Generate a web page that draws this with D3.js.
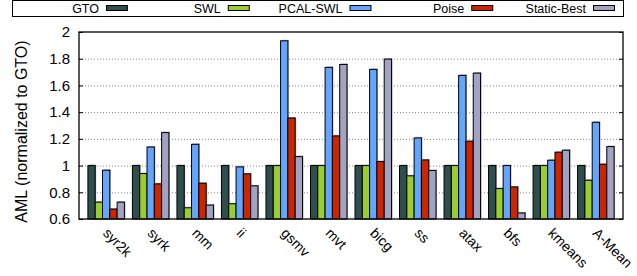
<!DOCTYPE html>
<html>
<head>
<meta charset="utf-8">
<script src="https://cdn.jsdelivr.net/npm/d3@7"></script>
<style>
  body { margin: 0; background: #fff; }
  svg text { font-family: "Liberation Sans", Arial, sans-serif; fill: #000; }
</style>
</head>
<body>
<div id="chart"></div>
<script>
// benchmarks along the x axis
var categories = ["syr2k", "syrk", "mm", "ii", "gsmv", "mvt", "bicg", "ss", "atax", "bfs", "kmeans", "A-Mean"];
var seriesNames = ["GTO", "SWL", "PCAL-SWL", "Poise", "Static-Best"];

// AML normalized to GTO
var gtoValues    = [1, 1, 1, 1, 1, 1, 1, 1, 1, 1, 1, 1];
var swlValues    = [0.726, 0.94, 0.684, 0.714, 1, 1, 1, 0.923, 1, 0.828, 1, 0.89];
var pcalValues   = [0.965, 1.139, 1.159, 0.99, 1.934, 1.735, 1.72, 1.207, 1.675, 1.0, 1.04, 1.324];
var poiseValues  = [0.674, 0.863, 0.868, 0.938, 1.356, 1.222, 1.03, 1.042, 1.182, 0.84, 1.1, 1.01];
var staticValues = [0.726, 1.247, 0.704, 0.848, 1.067, 1.757, 1.797, 0.963, 1.692, 0.645, 1.115, 1.142];

var yTicks = [0.6, 0.8, 1, 1.2, 1.4, 1.6, 1.8, 2];
var colors = ["#2f4f4f", "#9acd32", "#64a5ff", "#cc2500", "#a2a2c2"];

var allValues = [gtoValues, swlValues, pcalValues, poiseValues, staticValues];

var width = 637, height = 276;
var margin = { top: 32, right: 14, bottom: 57, left: 79 };

var svg = d3.select("#chart").append("svg")
    .attr("width", width)
    .attr("height", height);

var x0 = d3.scaleBand()
    .domain(categories)
    .range([margin.left, width - margin.right])
    .paddingInner(0.18)
    .paddingOuter(0.2);

var x1 = d3.scaleBand()
    .domain(seriesNames)
    .range([0, x0.bandwidth()]);

var y = d3.scaleLinear()
    .domain([0.6, 2])
    .range([height - margin.bottom, margin.top]);

var fmt = function(v) { return String(+v.toFixed(1)); };

// dotted grid lines
svg.append("g")
    .selectAll("line")
    .data(yTicks.filter(function(t) { return t > 0.6 && t < 2; }))
    .enter().append("line")
    .attr("x1", margin.left)
    .attr("x2", width - margin.right)
    .attr("y1", function(d) { return y(d) + 0.5; })
    .attr("y2", function(d) { return y(d) + 0.5; })
    .attr("stroke", "#888")
    .attr("stroke-width", 1)
    .attr("stroke-dasharray", "1,2");

// bars
var rows = [];
categories.forEach(function(c, i) {
    seriesNames.forEach(function(s, j) {
        rows.push({ cat: c, series: s, value: allValues[j][i], color: colors[j] });
    });
});

var bars = svg.append("g");

// soft shadow behind each bar
bars.selectAll("rect.shadow")
    .data(rows)
    .enter().append("rect")
    .attr("class", "shadow")
    .attr("x", function(d) { return x0(d.cat) + x1(d.series) + 1; })
    .attr("y", function(d) { return y(d.value) - 1; })
    .attr("width", x1.bandwidth())
    .attr("height", function(d) { return y(0.6) - y(d.value); })
    .attr("fill", "#aaa");

bars.selectAll("rect.bar")
    .data(rows)
    .enter().append("rect")
    .attr("class", "bar")
    .attr("x", function(d) { return x0(d.cat) + x1(d.series); })
    .attr("y", function(d) { return y(d.value); })
    .attr("width", x1.bandwidth())
    .attr("height", function(d) { return y(0.6) - y(d.value); })
    .attr("fill", function(d) { return d.color; })
    .attr("stroke", "#000")
    .attr("stroke-width", 1);

// y axis with inward ticks, mirrored on the right
var yAxis = d3.axisLeft(y).tickValues(yTicks).tickSize(-4).tickPadding(9).tickFormat(fmt);
var gy = svg.append("g")
    .attr("transform", "translate(" + margin.left + ",0)")
    .call(yAxis);
gy.select(".domain").remove();
gy.selectAll("text").style("font-size", "15px");

var gyr = svg.append("g")
    .attr("transform", "translate(" + (width - margin.right) + ",0)")
    .call(d3.axisRight(y).tickValues(yTicks).tickSize(-4).tickFormat(""));
gyr.select(".domain").remove();

// plot frame
svg.append("rect")
    .attr("x", margin.left)
    .attr("y", margin.top)
    .attr("width", width - margin.right - margin.left)
    .attr("height", height - margin.bottom - margin.top)
    .attr("fill", "none")
    .attr("stroke", "#000")
    .attr("stroke-width", 1.3);

// rotated category labels
svg.append("g")
    .selectAll("text")
    .data(categories)
    .enter().append("text")
    .attr("transform", function(d) {
        var cx = x0(d) + x0.bandwidth() / 2 - 4;
        return "translate(" + cx + "," + (y(0.6) + 15) + ") rotate(45)";
    })
    .style("font-size", "14px")
    .attr("text-anchor", "start")
    .text(function(d) { return d; });

// y axis title
svg.append("text")
    .attr("transform", "translate(27,131.5) rotate(-90)")
    .attr("text-anchor", "middle")
    .style("font-size", "16px")
    .text("AML (normalized to GTO)");

// legend across the top
var legend = svg.append("g");
legend.append("rect")
    .attr("x", 12.5).attr("y", 0.5)
    .attr("width", 611).attr("height", 16)
    .attr("fill", "#fff")
    .attr("stroke", "#000");

var legendX = d3.scalePoint()
    .domain(seriesNames)
    .range([106, 593]);

var items = legend.selectAll("g.item")
    .data(seriesNames)
    .enter().append("g")
    .attr("class", "item")
    .attr("transform", function(d) { return "translate(" + legendX(d) + ",0)"; });

items.append("rect")
    .attr("x", 0.5).attr("y", 5.5)
    .attr("width", 21).attr("height", 5)
    .attr("fill", function(d, i) { return colors[i]; })
    .attr("stroke", "#000");

items.append("text")
    .attr("x", -7).attr("y", 13)
    .attr("text-anchor", "end")
    .style("font-size", "12.5px")
    .text(function(d) { return d; });
</script>
</body>
</html>
